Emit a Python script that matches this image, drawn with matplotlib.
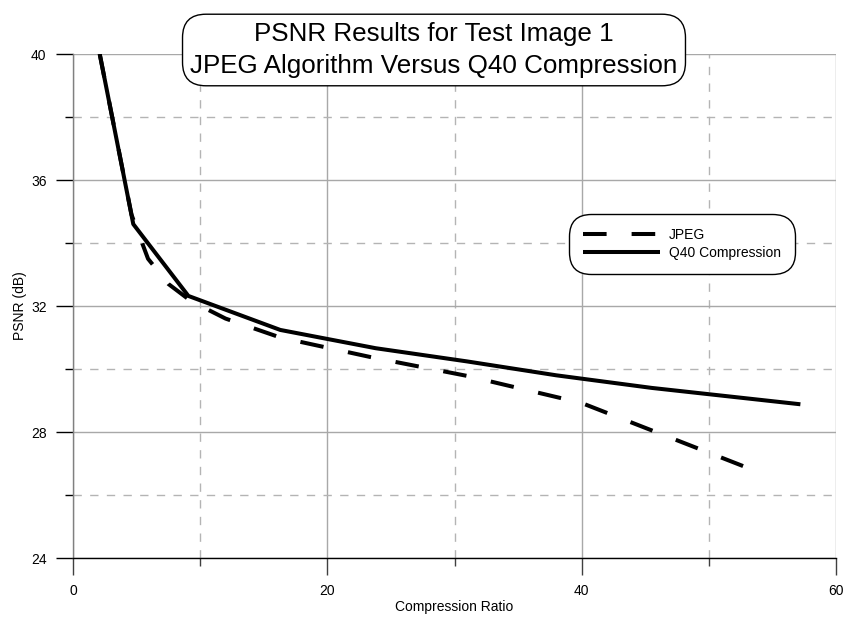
"""
PSNR results for test image 1: JPEG versus Q40 compression.
"""
import matplotlib
matplotlib.use("Agg")
import matplotlib.pyplot as plt
from matplotlib.ticker import MultipleLocator

plt.rcParams["font.family"] = ["Liberation Sans", "DejaVu Sans"]
plt.rcParams["lines.scale_dashes"] = False

# data
jpeg_ratio = [2.1, 4.6, 5.9, 7.5, 9.3, 12.0, 16.3, 23.5, 31.0, 40.0, 53.0]
jpeg_psnr = [40.0, 34.9, 33.5, 32.7, 32.15, 31.6, 31.0, 30.37, 29.78, 28.92, 26.87]
q40_ratio = [2.1, 4.74, 9.07, 16.3, 23.8, 31.0, 38.0, 45.5, 57.2]
q40_psnr = [40.0, 34.6, 32.32, 31.24, 30.66, 30.24, 29.8, 29.4, 28.88]

title_lines = ["PSNR Results for Test Image 1", "JPEG Algorithm Versus Q40 Compression"]

W, H = 848, 619
fig = plt.figure(figsize=(W / 100, H / 100), dpi=100)
ax = fig.add_axes([73 / W, 1 - 558 / H, (836 - 73) / W, (558 - 54) / H])

lw = 2.9
ax.plot(jpeg_ratio, jpeg_psnr, color="black", lw=lw, dashes=(17, 18),
        dash_capstyle="butt", label="JPEG", zorder=3)
ax.plot(q40_ratio, q40_psnr, color="black", lw=lw, solid_capstyle="butt",
        label="Q40 Compression", zorder=3)

ax.set_xlim(0, 60)
ax.set_ylim(24, 40)
ax.xaxis.set_major_locator(MultipleLocator(20))
ax.xaxis.set_minor_locator(MultipleLocator(10))
ax.yaxis.set_major_locator(MultipleLocator(4))
ax.yaxis.set_minor_locator(MultipleLocator(2))

ax.grid(which="major", color="#a8a8a8", lw=1.0, ls="-")
ax.grid(which="minor", color="#b4b4b4", lw=1.0, ls=(0, (6, 6)))
ax.set_axisbelow(True)

for s in ("top", "right"):
    ax.spines[s].set_visible(False)
ax.spines["left"].set_color("#808080")
ax.spines["bottom"].set_color("black")
ax.spines["left"].set_linewidth(1.0)
ax.spines["bottom"].set_linewidth(1.0)

ax.tick_params(which="major", direction="out", length=12, width=1.0,
               labelsize=10, colors="black", pad=7)
ax.tick_params(which="minor", direction="out", length=6, width=1.0, colors="black")
ax.tick_params(axis="x", which="both", color="#404040")

ax.set_xlabel("Compression Ratio", fontsize=10, labelpad=1)
ax.set_ylabel("PSNR (dB)", fontsize=10, labelpad=3)

leg = ax.legend(loc="upper left", bbox_to_anchor=((566 - 73) / (836 - 73), 1 - (211 - 54) / 504),
                fontsize=10, handlelength=5.6, handletextpad=0.6, borderpad=0.7,
                labelspacing=0.3, fancybox=True, framealpha=1, edgecolor="black")
leg.get_frame().set_linewidth(1.0)
leg.get_frame().set_boxstyle("round,pad=0.3,rounding_size=1.6")

fig.text(434 / W, 1 - 50 / H, "\n".join(title_lines), ha="center", va="center",
         fontsize=18.7, linespacing=1.42,
         bbox=dict(boxstyle="round,pad=0.3,rounding_size=0.9", fc="white",
                   ec="black", lw=1.0))

fig.savefig("out.png", dpi=100)
